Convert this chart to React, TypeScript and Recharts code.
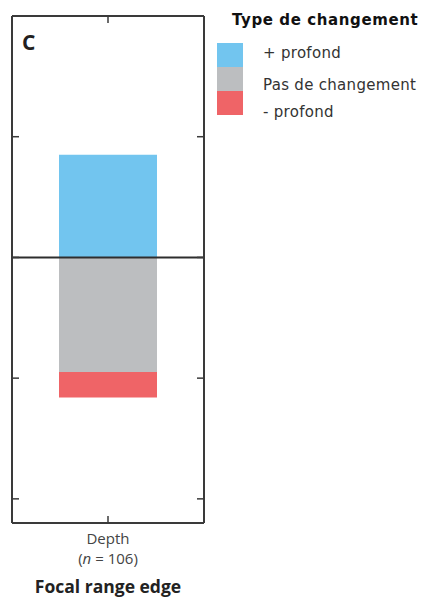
import React from 'react';
import {
  ComposedChart,
  Bar,
  XAxis,
  YAxis,
  ReferenceLine,
  Legend,
} from 'recharts';

// share of species per kind of change, measured from the zero line
const categories = ['Depth'];
const sampleSize = [106];
const deeper = [0.17];
const unchanged = [0.19];
const shallower = [0.042];
const yTicks = [-0.4, -0.2, 0, 0.2];
const changeLabels = ['+ profond', 'Pas de changement', '- profond'];
const changeColors = ['#72c5ef', '#bcbec0', '#ef6467'];

// deeper goes up, the other two stack downward
const data = categories.map((name, i) => ({
  name,
  deeper: deeper[i],
  unchanged: -unchanged[i],
  shallower: -shallower[i],
}));

const frame = '#3a3a3a';
const axisLine = { stroke: frame, strokeWidth: 2 };
const tickLine = { stroke: frame, strokeWidth: 1.5 };
const noText = () => '';

const CategoryTick = (props: any) => {
  const { x, y, payload, index } = props;
  const style = { fontFamily: '"Open Sans", sans-serif', fontSize: 15, fill: '#444' };
  return (
    <g>
      <text x={x} y={y + 21} textAnchor="middle" {...style}>
        {payload.value}
      </text>
      <text x={x} y={y + 41} textAnchor="middle" {...style}>
        (<tspan fontStyle="italic">n</tspan> = {sampleSize[index ?? 0]})
      </text>
    </g>
  );
};

const ChangeLegend = () => (
  <svg width={216} height={120}>
    <text
      x={15}
      y={17}
      fontFamily="DejaVu Sans, sans-serif"
      fontWeight="bold"
      fontSize={15}
      letterSpacing={0.6}
      fill="#111"
    >
      Type de changement
    </text>
    {changeLabels.map((label, i) => (
      <rect key={label} x={0} y={35 + i * 24} width={26} height={24} fill={changeColors[i]} />
    ))}
    {changeLabels.map((label, i) => (
      <text
        key={label}
        x={46}
        y={[50, 82, 109][i]}
        fontFamily="DejaVu Sans, sans-serif"
        fontSize={15}
        letterSpacing={0.3}
        fill="#333"
      >
        {label}
      </text>
    ))}
  </svg>
);

export default function App() {
  return (
    <div style={{ position: 'relative', width: 425, height: 595 }}>
      <ComposedChart
        width={425}
        height={595}
        data={data}
        stackOffset="sign"
        margin={{ top: 7, right: 228, bottom: 0, left: 3 }}
      >
        <XAxis
          dataKey="name"
          height={80}
          axisLine={axisLine}
          tickLine={tickLine}
          tickSize={-7}
          tickMargin={7}
          tick={<CategoryTick />}
          label={{
            value: 'Focal range edge',
            position: 'insideBottom',
            offset: 10,
            fontFamily: '"Open Sans", sans-serif',
            fontWeight: 'bold',
            fontSize: 17.5,
            fill: '#222',
          }}
        />
        <XAxis
          xAxisId="top"
          orientation="top"
          dataKey="name"
          height={1}
          axisLine={axisLine}
          tickLine={tickLine}
          tickSize={-7}
          tickFormatter={noText}
        />
        <YAxis
          width={1}
          type="number"
          domain={[-0.44, 0.4]}
          ticks={yTicks}
          axisLine={axisLine}
          tickLine={tickLine}
          tickSize={-7}
          tickFormatter={noText}
        />
        <YAxis
          yAxisId="right"
          orientation="right"
          width={1}
          type="number"
          domain={[-0.44, 0.4]}
          ticks={yTicks}
          axisLine={axisLine}
          tickLine={tickLine}
          tickSize={-7}
          tickFormatter={noText}
        />
        <Legend
          layout="vertical"
          align="center"
          verticalAlign="middle"
          wrapperStyle={{ left: 209, top: 0, width: 216, height: 120 }}
          content={() => <ChangeLegend />}
        />
        <Bar dataKey="deeper" name={changeLabels[0]} stackId="s" barSize={98} fill={changeColors[0]} isAnimationActive={false} />
        <Bar dataKey="unchanged" name={changeLabels[1]} stackId="s" barSize={98} fill={changeColors[1]} isAnimationActive={false} />
        <Bar dataKey="shallower" name={changeLabels[2]} stackId="s" barSize={98} fill={changeColors[2]} isAnimationActive={false} />
        {/* unfilled copy bound to the top and right axes so the frame gets its ticks */}
        <Bar
          xAxisId="top"
          yAxisId="right"
          dataKey="deeper"
          fill="none"
          legendType="none"
          isAnimationActive={false}
        />
        <ReferenceLine y={0} stroke="#2e2e2e" strokeWidth={2} />
      </ComposedChart>
      <span
        style={{
          position: 'absolute',
          left: 14,
          top: 20,
          fontFamily: '"Open Sans", sans-serif',
          fontWeight: 'bold',
          fontSize: 21,
          color: '#231f20',
        }}
      >
        C
      </span>
    </div>
  );
}
